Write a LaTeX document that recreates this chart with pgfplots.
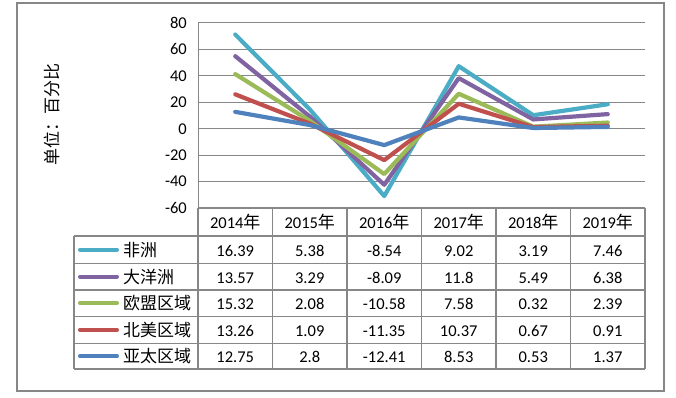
\documentclass[border=0pt]{standalone}
\usepackage{pgfplots}
\pgfplotsset{compat=1.18}
\usepackage{fontspec}
\setmainfont{Carlito}
\newfontfamily\cjk{Noto Sans CJK SC}
\definecolor{cAf}{HTML}{4BACC6}
\definecolor{cOc}{HTML}{8064A2}
\definecolor{cEu}{HTML}{9BBB59}
\definecolor{cNa}{HTML}{C0504D}
\definecolor{cAp}{HTML}{4F81BD}
\definecolor{gridgray}{HTML}{878787}
\begin{document}
\begin{tikzpicture}
\useasboundingbox (0,0) rectangle (676pt,398pt);
\draw[gridgray, line width=1.3pt] (17pt,7pt) rectangle (664pt,395pt);
\begin{axis}[
  at={(198pt,190pt)}, anchor=south west,
  scale only axis, width=447pt, height=185pt,
  xmin=-0.5, xmax=5.5, ymin=-60, ymax=80,
  axis x line=none, axis y line*=left,
  y axis line style={-, gridgray, line width=1pt},
  ytick={-60,-40,-20,0,20,40,60,80},
  yticklabels={-60,-40,-20,0,20,40,60,80},
  major tick length=0pt,
  ymajorgrids, grid style={gridgray, line width=1pt},
  yticklabel style={font=\fontsize{16.5}{18}\selectfont, inner sep=0pt, xshift=-11pt},
  stack plots=y,
  every axis plot/.append style={line width=4.2pt, line join=round, line cap=round, mark=none},
  clip=false]
\addplot[color=cAp] coordinates {(0,12.75) (1,2.8) (2,-12.41) (3,8.53) (4,0.53) (5,1.37)};
\addplot[color=cNa] coordinates {(0,13.26) (1,1.09) (2,-11.35) (3,10.37) (4,0.67) (5,0.91)};
\addplot[color=cEu] coordinates {(0,15.32) (1,2.08) (2,-10.58) (3,7.58) (4,0.32) (5,2.39)};
\addplot[color=cOc] coordinates {(0,13.57) (1,3.29) (2,-8.09) (3,11.8) (4,5.49) (5,6.38)};
\addplot[color=cAf] coordinates {(0,16.39) (1,5.38) (2,-8.54) (3,9.02) (4,3.19) (5,7.46)};
\end{axis}
% y label
\node[rotate=90, font=\cjk\fontsize{17}{20}\selectfont] at (52pt,283pt) {单位：百分比};
% table grid
\draw[gridgray, line width=1.7pt] (198pt,190pt) -- (645pt,190pt);
\foreach \yy in {162,134.7,108,81.7,54.7,29}
  \draw[gridgray, line width=1.2pt] (74pt,\yy pt) -- (645pt,\yy pt);
\draw[gridgray, line width=1.2pt] (74pt,162pt) -- (74pt,29pt);
\foreach \xx in {198,272.5,347,421.5,496,570.5,645}
  \draw[gridgray, line width=1.2pt] (\xx pt,190pt) -- (\xx pt,29pt);
% header
\foreach \yr [count=\i from 0] in {2014,2015,2016,2017,2018,2019}
  \node[anchor=base, inner sep=0pt, font=\fontsize{16.5}{18}\selectfont] at ({235.25pt+74.5pt*\i},169pt) {\yr{\cjk\fontsize{17}{18}\selectfont 年}};
% rows
\foreach \nm/\cl/\yc/\vals in {
  非洲/cAf/148.3/{16.39,5.38,-8.54,9.02,3.19,7.46},
  大洋洲/cOc/121.3/{13.57,3.29,-8.09,11.8,5.49,6.38},
  欧盟区域/cEu/94.8/{15.32,2.08,-10.58,7.58,0.32,2.39},
  北美区域/cNa/68.2/{13.26,1.09,-11.35,10.37,0.67,0.91},
  亚太区域/cAp/41.8/{12.75,2.8,-12.41,8.53,0.53,1.37}}{
  \draw[\cl, line width=4pt, line cap=round] (80pt,\yc pt) -- (117pt,\yc pt);
  \node[anchor=base west, inner sep=0pt, font=\cjk\fontsize{17}{18}\selectfont] at (123pt,\yc pt-6.5pt) {\nm};
  \foreach \v [count=\i from 0] in \vals
    \node[anchor=base, inner sep=0pt, font=\fontsize{16.5}{18}\selectfont] at ({235.25pt+74.5pt*\i},\yc pt-6.5pt) {\v};
}
\end{tikzpicture}
\end{document}
